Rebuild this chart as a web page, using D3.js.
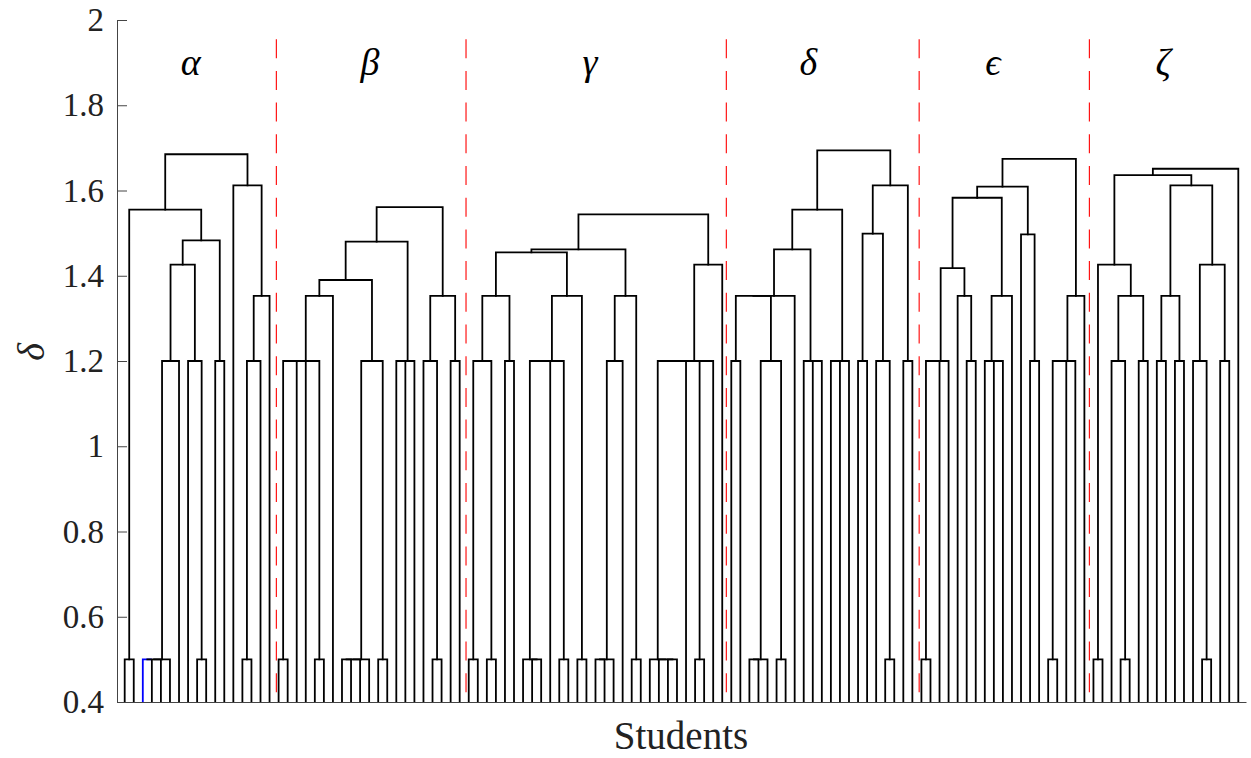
<!DOCTYPE html>
<html>
<head>
<meta charset="utf-8">
<script src="https://cdn.jsdelivr.net/npm/d3@7"></script>
<style>
body{margin:0;background:#fff;}
text{font-family:"Liberation Serif","Times New Roman",serif;}
</style>
</head>
<body>
<svg></svg>
<script>
// cluster names, label positions (in leaf units) and divider positions
var clusterNames = ["α","β","γ","δ","ϵ","ζ"];
var labelPos = [8.3, 28.1, 52.4, 76.5, 96.9, 115.7];
var dividers = [17.75, 38.7, 67.45, 88.75, 107.55];
var yTicks = [0.4,0.6,0.8,1,1.2,1.4,1.6,1.8,2];

// each cluster as a nested string: x = student, (a,b)h = merge at height h, * = blue link
var clusterTrees = [
  "(((x,x)0.5,(((((x,x)0.5*,x,x)0.5,x)1.2,(x,(x,x)0.5)1.2)1.426,(x,x)1.2)1.483)1.555,(x,(((x,x)0.5,x)1.2,x)1.353)1.612)1.685",
  "(((((((x,x)0.5,(x,x)1.2)1.2,(x,x)0.5)1.2,x)1.353,((x,x,x,x)0.5,(x,x)0.5)1.2)1.39,(x,x,x)1.2)1.48,((x,(x,x)0.5)1.2,(x,x)1.2)1.353)1.561",
  "((((((x,x)0.5,(x,x)0.5)1.2,(x,x)1.2)1.353,(((x,(x,x)0.5)0.5,x,(x,x)0.5)1.2,(x,x)0.5)1.353)1.455,(((x,x,x)0.5,x)1.2,(x,x)0.5)1.353)1.462,((((x,(x,(x,x)0.5)0.5)0.5,(x,(x,x)0.5)1.2)1.2,x)1.2,x)1.426)1.544",
  "((((((x,x)1.2,((x,x,x)0.5,(x,x)0.5)1.2)1.353,x)1.353,(x,(x,x)1.2)1.2)1.462,(x,x,x)1.2)1.555,(((x,x)1.2,(x,(x,x)0.5)1.2)1.499,(x,x)1.2)1.612)1.694",
  "((((((x,x)0.5,x,x)1.2,(x,(x,x)1.2)1.353)1.418,((x,(x,x)1.2)1.2,x)1.353)1.583,(x,(x,x)1.2)1.497)1.609,(((x,x)0.5,x,x)1.2,x)1.353)1.674",
  "((((x,x)0.5,((x,(x,x)0.5)1.2,(x,x)1.2)1.353)1.426,(((x,x)1.2,(x,x)1.2)1.353,((x,(x,x)0.5)1.2,(x,x)1.2)1.426)1.612)1.636,x)1.651"
];

var parseTree = function(s){
  var pos = 0;
  var node = function(){
    if (s[pos] == "x") { pos++; return {}; }
    pos++;
    var kids = [node()];
    while (s[pos] == ",") { pos++; kids.push(node()); }
    pos++;
    var m = /^[0-9.]+/.exec(s.slice(pos));
    var h = +m[0];
    pos += m[0].length;
    var blue = false;
    if (s[pos] == "*") { blue = true; pos++; }
    // ties are successive merges at the same height
    var n = kids[0];
    for (var k = 1; k < kids.length; k++) n = {children:[n, kids[k]], h:h, blue:blue};
    return n;
  };
  return node();
};

var width = 1251, height = 758;
var svg = d3.select("svg").attr("width", width).attr("height", height);

var x = d3.scaleLinear().domain([0.15, 124.85]).range([117, 1246]);
var y = d3.scaleLinear().domain([0.4, 2]).range([702, 20]);

// build trees
var offset = 0;
var roots = clusterTrees.map(function(s){
  var root = d3.hierarchy(parseTree(s));
  root.leaves().forEach(function(l){ offset++; l.px = offset; l.h = 0.4; });
  root.eachAfter(function(d){
    if (d.children) {
      d.px = (d.children[0].px + d.children[1].px) / 2;
      d.h = d.data.h;
    }
  });
  return root;
});

var links = [];
roots.forEach(function(r){
  r.eachAfter(function(d){ if (d.children) links.push(d); });
});

var g = svg.append("g");
links.forEach(function(d){
  var a = d.children[0], b = d.children[1];
  if (d.data.blue) {
    g.append("path")
     .attr("d", "M" + x(a.px) + "," + y(a.h) + "V" + y(d.h) + "H" + x(b.px))
     .attr("fill","none").attr("stroke","#0000ff").attr("stroke-width",1.8);
    g.append("path")
     .attr("d", "M" + x(b.px) + "," + y(d.h) + "V" + y(b.h))
     .attr("fill","none").attr("stroke","#000").attr("stroke-width",1.8);
  } else {
    g.append("path")
     .attr("d", "M" + x(a.px) + "," + y(a.h) + "V" + y(d.h) + "H" + x(b.px) + "V" + y(b.h))
     .attr("fill","none").attr("stroke","#000").attr("stroke-width",1.8)
     .attr("stroke-linejoin","miter").attr("stroke-linecap","square");
  }
});

// red dashed dividers
svg.selectAll("line.div")
   .data(dividers)
   .enter()
   .append("line")
   .attr("x1", function(d){return x(d);})
   .attr("x2", function(d){return x(d);})
   .attr("y1", y(1.955))
   .attr("y2", y(0.4))
   .attr("stroke","#ff0000")
   .attr("stroke-width",1.1)
   .attr("stroke-dasharray","19,12.7");

// cluster labels
svg.selectAll("text.lab")
   .data(clusterNames)
   .enter()
   .append("text")
   .text(function(d){return d;})
   .attr("x", function(d,i){return x(labelPos[i]);})
   .attr("y", y(1.87))
   .attr("text-anchor","middle")
   .attr("font-style","italic")
   .attr("font-size",38)
   .attr("fill","#000");

// axes
var yAxis = d3.axisLeft(y)
  .tickValues(yTicks)
  .tickSize(-10)
  .tickSizeOuter(0)
  .tickPadding(13)
  .tickFormat(function(d){return String(+d.toFixed(1));});
var ya = svg.append("g").attr("transform","translate(117,0)").call(yAxis);
ya.select(".domain").attr("stroke","#444").attr("stroke-width",1);
ya.selectAll(".tick line").attr("stroke","#444");
ya.selectAll(".tick text")
  .attr("font-size",33)
  .attr("font-family","Liberation Serif, serif")
  .attr("fill","#222");

var xAxis = d3.axisBottom(x).tickValues([]).tickSizeOuter(0);
var xa = svg.append("g").attr("transform","translate(0,702)").call(xAxis);
xa.select(".domain").attr("stroke","#444").attr("stroke-width",1);

svg.append("text")
   .text("Students")
   .attr("x", 681)
   .attr("y", 749)
   .attr("text-anchor","middle")
   .attr("font-size",39)
   .attr("fill","#222");

svg.append("text")
   .text("δ")
   .attr("transform","translate(44,352) rotate(-90)")
   .attr("text-anchor","middle")
   .attr("font-style","italic")
   .attr("font-size",38)
   .attr("fill","#222");
</script>
</body>
</html>
